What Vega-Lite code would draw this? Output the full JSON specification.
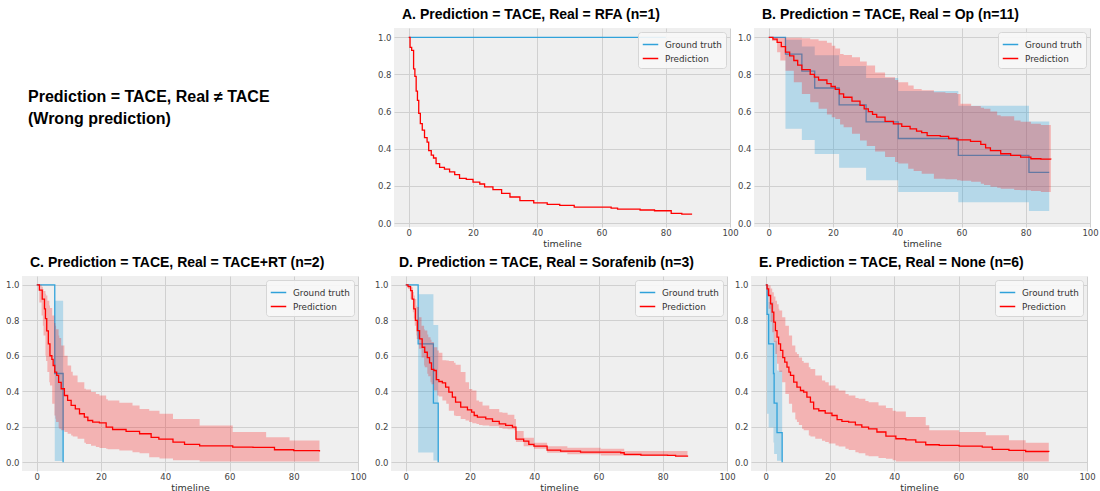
{
"$schema": "https://vega.github.io/schema/vega-lite/v6.json",
"padding": {"top": 8, "left": 0, "right": 0, "bottom": 0},
"background": "white",
"config": {
  "font": "DejaVu Sans",
  "view": {"stroke": null},
  "axis": {"grid": true, "gridColor": "#d0d0d0", "gridWidth": 1, "domain": false, "ticks": false, "tickSize": 0, "labelFontSize": 8.5, "labelColor": "#444", "labelFont": "DejaVu Sans", "titleFont": "DejaVu Sans", "titleFontSize": 9.5, "titleFontWeight": "normal", "titleColor": "#333", "labelPadding": 3, "titlePadding": 2},
  "axisX": {"labelPadding": 2, "labelFlush": false},
  "title": {"font": "Liberation Sans", "fontSize": 14, "fontWeight": "bold", "anchor": "start", "frame": "group", "dx": 8, "color": "black", "offset": 6},
  "legend": {"orient": "top-right", "offset": 4, "padding": 4, "fillColor": "rgba(247,247,247,0.9)", "strokeColor": "#d6d6d6", "cornerRadius": 3, "symbolType": "stroke", "symbolSize": 240, "symbolStrokeWidth": 1.5, "labelFontSize": 8.8, "labelFont": "DejaVu Sans", "labelColor": "#333", "labelOffset": 6, "rowPadding": 0}
},
"datasets": {
  "A_gt": [{"t":0,"y":1},{"t":80,"y":1}],
  "A_pred": [{"t":0,"y":1},{"t":0.4,"y":0.946},{"t":0.9,"y":0.93},{"t":1.5,"y":0.83},{"t":1.9,"y":0.79},{"t":2.3,"y":0.71},{"t":2.7,"y":0.66},{"t":3.1,"y":0.59},{"t":3.6,"y":0.535},{"t":4.2,"y":0.5},{"t":4.9,"y":0.46},{"t":5.7,"y":0.435},{"t":6.2,"y":0.39},{"t":7.0,"y":0.365},{"t":7.7,"y":0.35},{"t":8.5,"y":0.32},{"t":9.6,"y":0.3},{"t":11.1,"y":0.29},{"t":12.7,"y":0.275},{"t":14.3,"y":0.26},{"t":15.8,"y":0.24},{"t":17.9,"y":0.235},{"t":20,"y":0.22},{"t":22.1,"y":0.21},{"t":23.6,"y":0.195},{"t":26.2,"y":0.18},{"t":28.9,"y":0.16},{"t":31.5,"y":0.14},{"t":34.6,"y":0.12},{"t":38.9,"y":0.108},{"t":43.1,"y":0.1},{"t":47,"y":0.095},{"t":51.5,"y":0.085},{"t":63,"y":0.08},{"t":65,"y":0.075},{"t":72,"y":0.07},{"t":76.5,"y":0.066},{"t":81.7,"y":0.052},{"t":85,"y":0.048},{"t":88,"y":0.045}],
  "B_gt": [{"t":0,"y":1},{"t":5.2,"y":0.909},{"t":10.3,"y":0.818},{"t":14.3,"y":0.727},{"t":21.9,"y":0.636},{"t":30.3,"y":0.545},{"t":40.3,"y":0.455},{"t":59,"y":0.364},{"t":81,"y":0.273},{"t":87.3,"y":0.273}],
  "B_gtband": [{"t":0,"y":1,"y2":1},{"t":5.2,"y":0.508,"y2":0.987},{"t":10.3,"y":0.447,"y2":0.951},{"t":14.3,"y":0.371,"y2":0.903},{"t":21.9,"y":0.297,"y2":0.845},{"t":30.3,"y":0.23,"y2":0.781},{"t":40.3,"y":0.167,"y2":0.711},{"t":59,"y":0.112,"y2":0.632},{"t":81,"y":0.064,"y2":0.547},{"t":87.3,"y":0.064,"y2":0.547}],
  "B_pred": [{"t":0,"y":1},{"t":1.3,"y":0.99},{"t":2.6,"y":0.973},{"t":3.9,"y":0.95},{"t":5.2,"y":0.92},{"t":6.5,"y":0.9},{"t":7.8,"y":0.875},{"t":9,"y":0.85},{"t":10.3,"y":0.826},{"t":12.9,"y":0.8},{"t":14.2,"y":0.785},{"t":15.5,"y":0.77},{"t":18.1,"y":0.75},{"t":19.4,"y":0.735},{"t":20.7,"y":0.72},{"t":22,"y":0.695},{"t":23.3,"y":0.677},{"t":25.9,"y":0.656},{"t":28.4,"y":0.633},{"t":29.7,"y":0.615},{"t":31,"y":0.6},{"t":32.3,"y":0.585},{"t":33.6,"y":0.57},{"t":36.2,"y":0.547},{"t":38.8,"y":0.534},{"t":41.4,"y":0.52},{"t":44,"y":0.507},{"t":46,"y":0.495},{"t":47.6,"y":0.487},{"t":49.3,"y":0.47},{"t":53.4,"y":0.466},{"t":56,"y":0.455},{"t":58.6,"y":0.448},{"t":62.8,"y":0.44},{"t":66,"y":0.423},{"t":67.5,"y":0.405},{"t":69,"y":0.39},{"t":72.2,"y":0.373},{"t":75.3,"y":0.364},{"t":78.4,"y":0.355},{"t":81.6,"y":0.346},{"t":84.7,"y":0.344},{"t":87.8,"y":0.342}],
  "B_predband": [{"t":0,"y":1,"y2":1},{"t":1,"y":0.98,"y2":1},{"t":2.6,"y":0.92,"y2":1},{"t":3.6,"y":0.875,"y2":0.999},{"t":5.2,"y":0.82,"y2":0.998},{"t":7.8,"y":0.758,"y2":0.997},{"t":10.3,"y":0.695,"y2":0.995},{"t":12.9,"y":0.65,"y2":0.99},{"t":15.5,"y":0.615,"y2":0.982},{"t":18.1,"y":0.584,"y2":0.97},{"t":19.6,"y":0.57,"y2":0.955},{"t":20.7,"y":0.56,"y2":0.94},{"t":22.2,"y":0.53,"y2":0.91},{"t":23.3,"y":0.516,"y2":0.905},{"t":25.9,"y":0.48,"y2":0.892},{"t":28.4,"y":0.444,"y2":0.87},{"t":30.5,"y":0.415,"y2":0.848},{"t":33.1,"y":0.385,"y2":0.81},{"t":36.2,"y":0.355,"y2":0.785},{"t":39.3,"y":0.328,"y2":0.77},{"t":40.3,"y":0.32,"y2":0.758},{"t":43.4,"y":0.292,"y2":0.74},{"t":45.1,"y":0.28,"y2":0.722},{"t":47.6,"y":0.265,"y2":0.715},{"t":51.4,"y":0.238,"y2":0.704},{"t":55,"y":0.235,"y2":0.7},{"t":58.6,"y":0.23,"y2":0.695},{"t":59.7,"y":0.228,"y2":0.642},{"t":63,"y":0.222,"y2":0.63},{"t":66,"y":0.211,"y2":0.62},{"t":67,"y":0.205,"y2":0.615},{"t":69,"y":0.195,"y2":0.6},{"t":71.1,"y":0.19,"y2":0.58},{"t":72.2,"y":0.185,"y2":0.575},{"t":76.4,"y":0.178,"y2":0.552},{"t":78.4,"y":0.176,"y2":0.545},{"t":81.6,"y":0.172,"y2":0.534},{"t":84.7,"y":0.167,"y2":0.528},{"t":87.8,"y":0.167,"y2":0.525}],
  "C_gt": [{"t":0,"y":1},{"t":5.6,"y":0.5},{"t":8.2,"y":0}],
  "C_gtband": [{"t":0,"y":1,"y2":1},{"t":5.6,"y":0.006,"y2":0.91},{"t":8.2,"y":0.006,"y2":0.91}],
  "C_pred": [{"t":0,"y":1},{"t":0.8,"y":0.97},{"t":1.7,"y":0.92},{"t":2.4,"y":0.865},{"t":2.7,"y":0.81},{"t":3.1,"y":0.74},{"t":3.6,"y":0.667},{"t":4.1,"y":0.6},{"t":4.7,"y":0.58},{"t":5.1,"y":0.545},{"t":5.6,"y":0.508},{"t":6.2,"y":0.489},{"t":6.8,"y":0.45},{"t":7.6,"y":0.414},{"t":8.6,"y":0.376},{"t":9.6,"y":0.348},{"t":10.7,"y":0.32},{"t":12,"y":0.3},{"t":13.3,"y":0.273},{"t":14.8,"y":0.254},{"t":15.9,"y":0.235},{"t":17.4,"y":0.226},{"t":19.5,"y":0.222},{"t":21.6,"y":0.197},{"t":23.6,"y":0.184},{"t":27.8,"y":0.173},{"t":32,"y":0.16},{"t":35.6,"y":0.14},{"t":38,"y":0.13},{"t":42.4,"y":0.113},{"t":46,"y":0.1},{"t":50.7,"y":0.092},{"t":61,"y":0.085},{"t":67.3,"y":0.083},{"t":74,"y":0.07},{"t":80,"y":0.065},{"t":88,"y":0.06}],
  "C_predband": [{"t":0,"y":1,"y2":1},{"t":0.8,"y":0.9,"y2":1},{"t":1.5,"y":0.827,"y2":0.99},{"t":1.9,"y":0.77,"y2":0.977},{"t":2.1,"y":0.714,"y2":0.965},{"t":2.7,"y":0.6,"y2":0.95},{"t":2.9,"y":0.57,"y2":0.94},{"t":3.3,"y":0.508,"y2":0.91},{"t":3.9,"y":0.45,"y2":0.883},{"t":4.1,"y":0.432,"y2":0.87},{"t":4.8,"y":0.33,"y2":0.827},{"t":5.5,"y":0.263,"y2":0.785},{"t":5.8,"y":0.245,"y2":0.77},{"t":6,"y":0.226,"y2":0.75},{"t":6.8,"y":0.195,"y2":0.714},{"t":7,"y":0.188,"y2":0.7},{"t":7.6,"y":0.18,"y2":0.658},{"t":8.6,"y":0.17,"y2":0.6},{"t":9.6,"y":0.16,"y2":0.545},{"t":10.7,"y":0.15,"y2":0.51},{"t":11.2,"y":0.145,"y2":0.489},{"t":12.7,"y":0.132,"y2":0.45},{"t":14.8,"y":0.11,"y2":0.414},{"t":15.3,"y":0.103,"y2":0.41},{"t":16.9,"y":0.093,"y2":0.395},{"t":18.4,"y":0.085,"y2":0.385},{"t":19.5,"y":0.08,"y2":0.376},{"t":21.6,"y":0.075,"y2":0.355},{"t":22.1,"y":0.073,"y2":0.348},{"t":25.7,"y":0.066,"y2":0.335},{"t":29.8,"y":0.056,"y2":0.32},{"t":32,"y":0.05,"y2":0.3},{"t":35,"y":0.028,"y2":0.29},{"t":38.2,"y":0.02,"y2":0.273},{"t":42.4,"y":0.01,"y2":0.244},{"t":50.7,"y":0.004,"y2":0.207},{"t":61,"y":0.003,"y2":0.17},{"t":71.4,"y":0.003,"y2":0.141},{"t":78.7,"y":0.003,"y2":0.122},{"t":88,"y":0.003,"y2":0.113}],
  "D_gt": [{"t":0,"y":1},{"t":3.85,"y":0.667},{"t":8.6,"y":0.333},{"t":10.1,"y":0}],
  "D_gtband": [{"t":0,"y":1,"y2":1},{"t":3.85,"y":0.054,"y2":0.947},{"t":8.6,"y":0.009,"y2":0.774},{"t":10.1,"y":0.009,"y2":0.774}],
  "D_pred": [{"t":0,"y":1},{"t":0.7,"y":0.99},{"t":1.5,"y":0.968},{"t":2,"y":0.92},{"t":2.5,"y":0.865},{"t":3,"y":0.8},{"t":3.6,"y":0.742},{"t":4.3,"y":0.695},{"t":5.1,"y":0.648},{"t":5.9,"y":0.62},{"t":6.7,"y":0.59},{"t":7.4,"y":0.56},{"t":8,"y":0.523},{"t":8.75,"y":0.517},{"t":9.5,"y":0.466},{"t":10.3,"y":0.455},{"t":11.4,"y":0.447},{"t":12.4,"y":0.423},{"t":13.4,"y":0.395},{"t":14.5,"y":0.367},{"t":15.5,"y":0.338},{"t":17.1,"y":0.31},{"t":19.2,"y":0.295},{"t":20.5,"y":0.282},{"t":21.3,"y":0.263},{"t":22.3,"y":0.254},{"t":24.9,"y":0.244},{"t":27,"y":0.23},{"t":29.1,"y":0.216},{"t":31.1,"y":0.207},{"t":33.2,"y":0.197},{"t":34.3,"y":0.13},{"t":36.7,"y":0.119},{"t":38.3,"y":0.1},{"t":39.9,"y":0.09},{"t":44,"y":0.068},{"t":48.2,"y":0.0625},{"t":54.4,"y":0.057},{"t":66.9,"y":0.053},{"t":68,"y":0.044},{"t":73.2,"y":0.04},{"t":81.5,"y":0.038},{"t":84,"y":0.034},{"t":87.7,"y":0.03}],
  "D_predband": [{"t":0,"y":1,"y2":1},{"t":0.7,"y":0.977,"y2":1},{"t":1.5,"y":0.92,"y2":0.987},{"t":2.2,"y":0.846,"y2":0.96},{"t":2.5,"y":0.81,"y2":0.94},{"t":2.8,"y":0.77,"y2":0.92},{"t":3.25,"y":0.715,"y2":0.883},{"t":3.4,"y":0.695,"y2":0.875},{"t":4.1,"y":0.64,"y2":0.818},{"t":4.9,"y":0.59,"y2":0.77},{"t":5.7,"y":0.545,"y2":0.75},{"t":5.9,"y":0.535,"y2":0.742},{"t":6.7,"y":0.498,"y2":0.72},{"t":7,"y":0.485,"y2":0.705},{"t":7.7,"y":0.45,"y2":0.69},{"t":8,"y":0.44,"y2":0.677},{"t":8.75,"y":0.404,"y2":0.648},{"t":9.8,"y":0.376,"y2":0.63},{"t":10.3,"y":0.37,"y2":0.617},{"t":11.4,"y":0.348,"y2":0.575},{"t":12.6,"y":0.33,"y2":0.573},{"t":13.4,"y":0.29,"y2":0.57},{"t":15,"y":0.263,"y2":0.56},{"t":15.5,"y":0.26,"y2":0.55},{"t":17.1,"y":0.244,"y2":0.508},{"t":18.6,"y":0.235,"y2":0.45},{"t":19.7,"y":0.226,"y2":0.413},{"t":20.7,"y":0.22,"y2":0.404},{"t":22,"y":0.215,"y2":0.348},{"t":22.8,"y":0.21,"y2":0.34},{"t":23.9,"y":0.207,"y2":0.32},{"t":26,"y":0.203,"y2":0.3},{"t":29.1,"y":0.192,"y2":0.282},{"t":30.1,"y":0.188,"y2":0.278},{"t":31.7,"y":0.185,"y2":0.267},{"t":33.8,"y":0.18,"y2":0.244},{"t":34.3,"y":0.113,"y2":0.176},{"t":36.7,"y":0.09,"y2":0.138},{"t":39.9,"y":0.076,"y2":0.11},{"t":44,"y":0.053,"y2":0.09},{"t":50.3,"y":0.044,"y2":0.081},{"t":60.7,"y":0.038,"y2":0.076},{"t":68,"y":0.034,"y2":0.0625},{"t":87.7,"y":0.023,"y2":0.044}],
  "E_gt": [{"t":0,"y":1},{"t":0.4,"y":0.833},{"t":0.9,"y":0.667},{"t":2.4,"y":0.5},{"t":2.6,"y":0.333},{"t":3.5,"y":0.167},{"t":5.1,"y":0}],
  "E_gtband": [{"t":0,"y":1,"y2":1},{"t":0.4,"y":0.273,"y2":0.975},{"t":0.9,"y":0.195,"y2":0.904},{"t":2.4,"y":0.111,"y2":0.804},{"t":2.6,"y":0.046,"y2":0.685},{"t":3.5,"y":0.008,"y2":0.517},{"t":5.1,"y":0.008,"y2":0.517}],
  "E_pred": [{"t":0,"y":1},{"t":0.4,"y":0.977},{"t":0.9,"y":0.94},{"t":1.5,"y":0.893},{"t":2,"y":0.846},{"t":2.5,"y":0.79},{"t":3,"y":0.742},{"t":3.5,"y":0.705},{"t":4,"y":0.667},{"t":4.6,"y":0.63},{"t":5.3,"y":0.59},{"t":5.9,"y":0.564},{"t":6.6,"y":0.536},{"t":7.2,"y":0.508},{"t":7.7,"y":0.489},{"t":8.7,"y":0.451},{"t":9.7,"y":0.423},{"t":10.8,"y":0.404},{"t":11.8,"y":0.395},{"t":12.8,"y":0.367},{"t":13.9,"y":0.338},{"t":14.9,"y":0.3},{"t":16.5,"y":0.29},{"t":18.5,"y":0.276},{"t":20.6,"y":0.263},{"t":22.2,"y":0.24},{"t":23.7,"y":0.23},{"t":25.8,"y":0.226},{"t":27.9,"y":0.21},{"t":29.9,"y":0.197},{"t":32,"y":0.188},{"t":34.6,"y":0.17},{"t":37.4,"y":0.147},{"t":40.5,"y":0.132},{"t":43.6,"y":0.126},{"t":46.7,"y":0.113},{"t":49.8,"y":0.098},{"t":54,"y":0.094},{"t":60.2,"y":0.09},{"t":67.4,"y":0.085},{"t":70.5,"y":0.072},{"t":75.7,"y":0.066},{"t":80.9,"y":0.06},{"t":88.1,"y":0.057}],
  "E_predband": [{"t":0,"y":1,"y2":1},{"t":0.4,"y":0.94,"y2":1},{"t":0.9,"y":0.865,"y2":0.996},{"t":1.5,"y":0.79,"y2":0.98},{"t":2,"y":0.733,"y2":0.958},{"t":2.5,"y":0.677,"y2":0.935},{"t":3,"y":0.61,"y2":0.91},{"t":3.5,"y":0.555,"y2":0.89},{"t":4,"y":0.52,"y2":0.865},{"t":4.2,"y":0.508,"y2":0.855},{"t":5.1,"y":0.45,"y2":0.818},{"t":6.1,"y":0.385,"y2":0.77},{"t":7.2,"y":0.33,"y2":0.714},{"t":8.2,"y":0.28,"y2":0.658},{"t":9.2,"y":0.24,"y2":0.62},{"t":9.7,"y":0.226,"y2":0.61},{"t":10.3,"y":0.21,"y2":0.59},{"t":11.3,"y":0.188,"y2":0.57},{"t":11.8,"y":0.18,"y2":0.56},{"t":13.4,"y":0.15,"y2":0.535},{"t":13.9,"y":0.145,"y2":0.526},{"t":15.4,"y":0.132,"y2":0.489},{"t":17.5,"y":0.12,"y2":0.46},{"t":18.5,"y":0.113,"y2":0.45},{"t":19.6,"y":0.105,"y2":0.432},{"t":21.7,"y":0.094,"y2":0.415},{"t":22.7,"y":0.088,"y2":0.404},{"t":24.8,"y":0.075,"y2":0.385},{"t":25.8,"y":0.068,"y2":0.376},{"t":27.9,"y":0.056,"y2":0.362},{"t":28.9,"y":0.05,"y2":0.357},{"t":31,"y":0.038,"y2":0.345},{"t":32,"y":0.033,"y2":0.338},{"t":35.1,"y":0.023,"y2":0.32},{"t":37.4,"y":0.019,"y2":0.305},{"t":39.5,"y":0.01,"y2":0.29},{"t":40.5,"y":0.004,"y2":0.285},{"t":43.6,"y":0.003,"y2":0.255},{"t":49.8,"y":0.003,"y2":0.208},{"t":50.9,"y":0.003,"y2":0.18},{"t":60.2,"y":0.003,"y2":0.17},{"t":68.5,"y":0.003,"y2":0.151},{"t":75.7,"y":0.003,"y2":0.123},{"t":80.9,"y":0.003,"y2":0.11},{"t":88.1,"y":0.003,"y2":0.104}]
},
"vconcat": [
  {
    "hconcat": [
      {
        "width": 354, "height": 199,
        "view": {"fill": null, "stroke": null},
        "data": {"values": [{"row": 3.1, "label": "Prediction = TACE, Real ≠ TACE"}, {"row": 4.1, "label": "(Wrong prediction)"}]},
        "mark": {"type": "text", "align": "left", "baseline": "middle", "font": "Liberation Sans", "fontSize": 16, "fontWeight": "bold", "color": "black"},
        "encoding": {
          "x": {"datum": 0, "type": "quantitative", "scale": {"domain": [-1, 58], "nice": false, "zero": false}, "axis": null},
          "y": {"field": "row", "type": "quantitative", "scale": {"domain": [0, 9], "reverse": true, "nice": false, "zero": false}, "axis": null},
          "text": {"field": "label"}
        }
      },
      {
        "width": 336, "height": 199,
        "view": {"fill": "#efefef", "stroke": null},
        "title": {"text": "A. Prediction = TACE, Real = RFA (n=1)"},
        "encoding": {
          "x": {"field": "t", "type": "quantitative", "scale": {"domain": [-4.6, 100], "nice": false, "zero": false}, "axis": {"title": "timeline", "values": [0, 20, 40, 60, 80, 100], "labelPadding": 1}},
          "y": {"field": "y", "type": "quantitative", "scale": {"domain": [-0.0215, 1.05], "nice": false, "zero": false}, "axis": {"title": null, "values": [0, 0.2, 0.4, 0.6, 0.8, 1], "format": ".1f", "minExtent": 20, "maxExtent": 20}}
        },
        "layer": [
          {"data": {"name": "A_gt"}, "mark": {"type": "line", "interpolate": "step-after", "strokeWidth": 1.3}, "encoding": {"color": {"datum": "Ground truth", "type": "nominal", "scale": {"domain": ["Ground truth", "Prediction"], "range": ["#30a2da", "#ff0000"]}, "legend": {"title": null}}}},
          {"data": {"name": "A_pred"}, "mark": {"type": "line", "interpolate": "step-after", "strokeWidth": 1.3}, "encoding": {"color": {"datum": "Prediction", "type": "nominal"}}}
        ]
      },
      {
        "width": 336, "height": 199,
        "view": {"fill": "#efefef", "stroke": null},
        "title": {"text": "B. Prediction = TACE, Real = Op (n=11)"},
        "encoding": {
          "x": {"field": "t", "type": "quantitative", "scale": {"domain": [-4.6, 100], "nice": false, "zero": false}, "axis": {"title": "timeline", "values": [0, 20, 40, 60, 80, 100], "labelPadding": 1}},
          "y": {"field": "y", "type": "quantitative", "scale": {"domain": [-0.0215, 1.05], "nice": false, "zero": false}, "axis": {"title": null, "values": [0, 0.2, 0.4, 0.6, 0.8, 1], "format": ".1f", "minExtent": 17, "maxExtent": 17}}
        },
        "layer": [
          {"data": {"name": "B_gtband"}, "mark": {"type": "area", "interpolate": "step-after", "fill": "#30a2da", "opacity": 0.3}, "encoding": {"y2": {"field": "y2"}}},
          {"data": {"name": "B_gt"}, "mark": {"type": "line", "interpolate": "step-after", "strokeWidth": 1.3}, "encoding": {"color": {"datum": "Ground truth", "type": "nominal", "scale": {"domain": ["Ground truth", "Prediction"], "range": ["#30a2da", "#ff0000"]}, "legend": {"title": null}}}},
          {"data": {"name": "B_predband"}, "mark": {"type": "area", "interpolate": "step-after", "fill": "#ff0000", "opacity": 0.25}, "encoding": {"y2": {"field": "y2"}}},
          {"data": {"name": "B_pred"}, "mark": {"type": "line", "interpolate": "step-after", "strokeWidth": 1.3}, "encoding": {"color": {"datum": "Prediction", "type": "nominal"}}}
        ]
      }
    ],
    "spacing": -2,
    "resolve": {"scale": {"x": "independent", "y": "independent", "color": "independent"}, "legend": {"color": "independent"}}
  },
  {
    "hconcat": [
      {
        "width": 336, "height": 195,
        "view": {"fill": "#efefef", "stroke": null},
        "title": {"text": "C. Prediction = TACE, Real = TACE+RT (n=2)"},
        "encoding": {
          "x": {"field": "t", "type": "quantitative", "scale": {"domain": [-4.6, 100], "nice": false, "zero": false}, "axis": {"title": "timeline", "values": [0, 20, 40, 60, 80, 100], "labelPadding": 1}},
          "y": {"field": "y", "type": "quantitative", "scale": {"domain": [-0.05, 1.05], "nice": false, "zero": false}, "axis": {"title": null, "values": [0, 0.2, 0.4, 0.6, 0.8, 1], "format": ".1f", "minExtent": 22, "maxExtent": 22}}
        },
        "layer": [
          {"data": {"name": "C_gtband"}, "mark": {"type": "area", "interpolate": "step-after", "fill": "#30a2da", "opacity": 0.3}, "encoding": {"y2": {"field": "y2"}}},
          {"data": {"name": "C_gt"}, "mark": {"type": "line", "interpolate": "step-after", "strokeWidth": 1.3}, "encoding": {"color": {"datum": "Ground truth", "type": "nominal", "scale": {"domain": ["Ground truth", "Prediction"], "range": ["#30a2da", "#ff0000"]}, "legend": {"title": null}}}},
          {"data": {"name": "C_predband"}, "mark": {"type": "area", "interpolate": "step-after", "fill": "#ff0000", "opacity": 0.25}, "encoding": {"y2": {"field": "y2"}}},
          {"data": {"name": "C_pred"}, "mark": {"type": "line", "interpolate": "step-after", "strokeWidth": 1.3}, "encoding": {"color": {"datum": "Prediction", "type": "nominal"}}}
        ]
      },
      {
        "width": 336, "height": 195,
        "view": {"fill": "#efefef", "stroke": null},
        "title": {"text": "D. Prediction = TACE, Real = Sorafenib (n=3)"},
        "encoding": {
          "x": {"field": "t", "type": "quantitative", "scale": {"domain": [-4.6, 100], "nice": false, "zero": false}, "axis": {"title": "timeline", "values": [0, 20, 40, 60, 80, 100], "labelPadding": 1}},
          "y": {"field": "y", "type": "quantitative", "scale": {"domain": [-0.05, 1.05], "nice": false, "zero": false}, "axis": {"title": null, "values": [0, 0.2, 0.4, 0.6, 0.8, 1], "format": ".1f", "minExtent": 26, "maxExtent": 26}}
        },
        "layer": [
          {"data": {"name": "D_gtband"}, "mark": {"type": "area", "interpolate": "step-after", "fill": "#30a2da", "opacity": 0.3}, "encoding": {"y2": {"field": "y2"}}},
          {"data": {"name": "D_gt"}, "mark": {"type": "line", "interpolate": "step-after", "strokeWidth": 1.3}, "encoding": {"color": {"datum": "Ground truth", "type": "nominal", "scale": {"domain": ["Ground truth", "Prediction"], "range": ["#30a2da", "#ff0000"]}, "legend": {"title": null}}}},
          {"data": {"name": "D_predband"}, "mark": {"type": "area", "interpolate": "step-after", "fill": "#ff0000", "opacity": 0.25}, "encoding": {"y2": {"field": "y2"}}},
          {"data": {"name": "D_pred"}, "mark": {"type": "line", "interpolate": "step-after", "strokeWidth": 1.3}, "encoding": {"color": {"datum": "Prediction", "type": "nominal"}}}
        ]
      },
      {
        "width": 336, "height": 195,
        "view": {"fill": "#efefef", "stroke": null},
        "title": {"text": "E. Prediction = TACE, Real = None (n=6)"},
        "encoding": {
          "x": {"field": "t", "type": "quantitative", "scale": {"domain": [-4.6, 100], "nice": false, "zero": false}, "axis": {"title": "timeline", "values": [0, 20, 40, 60, 80, 100], "labelPadding": 1}},
          "y": {"field": "y", "type": "quantitative", "scale": {"domain": [-0.05, 1.05], "nice": false, "zero": false}, "axis": {"title": null, "values": [0, 0.2, 0.4, 0.6, 0.8, 1], "format": ".1f", "minExtent": 17, "maxExtent": 17}}
        },
        "layer": [
          {"data": {"name": "E_gtband"}, "mark": {"type": "area", "interpolate": "step-after", "fill": "#30a2da", "opacity": 0.3}, "encoding": {"y2": {"field": "y2"}}},
          {"data": {"name": "E_gt"}, "mark": {"type": "line", "interpolate": "step-after", "strokeWidth": 1.3}, "encoding": {"color": {"datum": "Ground truth", "type": "nominal", "scale": {"domain": ["Ground truth", "Prediction"], "range": ["#30a2da", "#ff0000"]}, "legend": {"title": null}}}},
          {"data": {"name": "E_predband"}, "mark": {"type": "area", "interpolate": "step-after", "fill": "#ff0000", "opacity": 0.25}, "encoding": {"y2": {"field": "y2"}}},
          {"data": {"name": "E_pred"}, "mark": {"type": "line", "interpolate": "step-after", "strokeWidth": 1.3}, "encoding": {"color": {"datum": "Prediction", "type": "nominal"}}}
        ]
      }
    ],
    "spacing": -2,
    "resolve": {"scale": {"x": "independent", "y": "independent", "color": "independent"}, "legend": {"color": "independent"}}
  }
],
"spacing": 8,
"resolve": {"scale": {"x": "independent", "y": "independent", "color": "independent"}, "legend": {"color": "independent"}}
}
